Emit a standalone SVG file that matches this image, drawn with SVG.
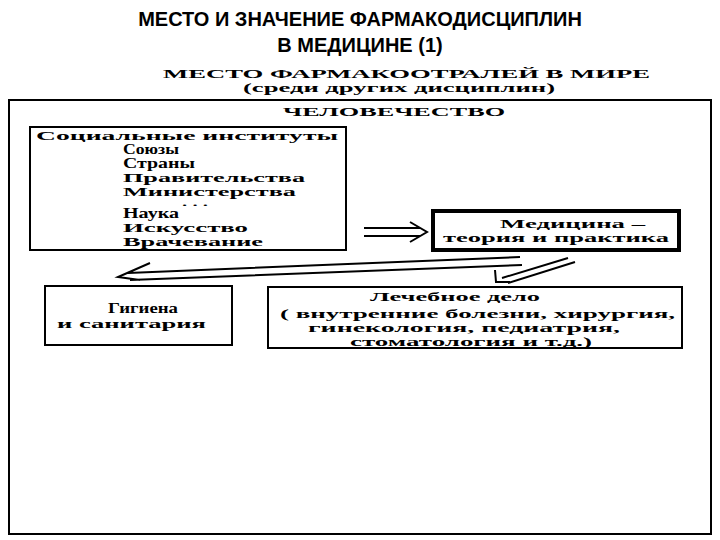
<svg xmlns="http://www.w3.org/2000/svg" width="720" height="540" viewBox="0 0 720 540">
<style>
.t{font-family:"Liberation Sans",Arial,sans-serif;font-weight:bold;fill:#000}
.s{font-family:"Liberation Serif","Times New Roman",serif;font-weight:bold;fill:#000}
.b{fill:#fff;stroke:#000;stroke-width:2}
.bt{fill:#fff;stroke:#000;stroke-width:4}
.c{fill:none;stroke:#000;stroke-width:2}
</style>
<rect width="720" height="540" fill="#fff"/>
<text class="t" x="360" y="26" font-size="20" text-anchor="middle">МЕСТО И ЗНАЧЕНИЕ ФАРМАКОДИСЦИПЛИН</text>
<text class="t" x="360" y="52" font-size="20" text-anchor="middle">В МЕДИЦИНЕ (1)</text>
<text class="s" x="163" y="78" font-size="13" textLength="487" lengthAdjust="spacingAndGlyphs">МЕСТО ФАРМАКООТРАЛЕЙ В МИРЕ</text>
<text class="s" x="243" y="92" font-size="13" textLength="312" lengthAdjust="spacingAndGlyphs">(среди других дисциплин)</text>
<g id="humanity"><rect class="b" x="9" y="100" width="702" height="434"/>
<text class="s" x="283" y="116" font-size="13" textLength="222" lengthAdjust="spacingAndGlyphs">ЧЕЛОВЕЧЕСТВО</text></g>
<g id="social"><rect class="b" x="30" y="127" width="316" height="123"/>
<g class="s" font-size="13"><text x="36" y="140" textLength="302" lengthAdjust="spacingAndGlyphs">Социальные институты</text>
<text x="123" y="154" font-size="14" textLength="56" lengthAdjust="spacingAndGlyphs">Союзы</text>
<text x="123" y="168" font-size="14" textLength="72" lengthAdjust="spacingAndGlyphs">Страны</text>
<text x="123" y="182" textLength="182" lengthAdjust="spacingAndGlyphs">Правительства</text>
<text x="123" y="196" textLength="173" lengthAdjust="spacingAndGlyphs">Министерства</text>
<text x="182" y="206" font-size="9" textLength="26" lengthAdjust="spacingAndGlyphs">. . .</text>
<text x="123" y="218" font-size="14" textLength="56" lengthAdjust="spacingAndGlyphs">Наука</text>
<text x="123" y="232" textLength="125" lengthAdjust="spacingAndGlyphs">Искусство</text>
<text x="123" y="246" textLength="140" lengthAdjust="spacingAndGlyphs">Врачевание</text></g></g>
<g id="medicine"><rect class="bt" x="433" y="211" width="246" height="39"/>
<text class="s" x="500" y="228" font-size="13" textLength="145" lengthAdjust="spacingAndGlyphs">Медицина –</text>
<text class="s" x="443" y="242" font-size="13" textLength="226" lengthAdjust="spacingAndGlyphs">теория и практика</text></g>
<g id="hygiene"><rect class="b" x="45" y="286" width="187" height="59"/>
<text class="s" x="108" y="313" font-size="15" textLength="70" lengthAdjust="spacingAndGlyphs">Гигиена</text>
<text class="s" x="57" y="328" font-size="13" textLength="149" lengthAdjust="spacingAndGlyphs">и санитария</text></g>
<g id="treatment"><rect class="b" x="268" y="287" width="414" height="61"/>
<text class="s" x="370" y="301" font-size="13" textLength="170" lengthAdjust="spacingAndGlyphs">Лечебное дело</text>
<text class="s" x="280" y="318" font-size="13" textLength="395" lengthAdjust="spacingAndGlyphs">( внутренние болезни,   хирургия,</text>
<text class="s" x="308" y="332" font-size="13" textLength="312" lengthAdjust="spacingAndGlyphs">гинекология, педиатрия,</text>
<text class="s" x="350" y="346" font-size="13" textLength="242" lengthAdjust="spacingAndGlyphs">стоматология и т.д.)</text></g>
<g id="connectors">
<path class="c" d="M364 228 H420 M364 236 H420 M410 222 L427 232 L410 242"/>
<path class="c" d="M520 257 L128 273 M522 265 L130 280 M150 263 L118 277 L140 280"/>
<path class="c" d="M568 258 L502 278 M575 262 L508 283 M495 270 L496 282 L510 282"/>
</g>
</svg>
